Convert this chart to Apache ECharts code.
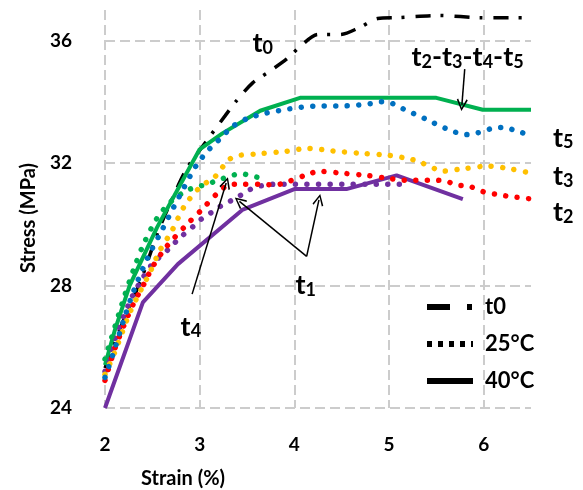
<!DOCTYPE html>
<html>
<head>
<meta charset="utf-8">
<script src="https://cdn.jsdelivr.net/npm/echarts@6/dist/echarts.min.js"></script>
<style>
  html, body { margin: 0; padding: 0; background: #fff; }
  #chart { width: 583px; height: 490px; }
</style>
</head>
<body>
<div id="chart"></div>
<script>
// [strain %, stress MPa]
var t0Curve = [[2.0, 25.3], [2.2, 26.9], [2.37, 28.1], [2.56, 29.75], [2.72, 30.9], [2.86, 31.8], [3.02, 32.5],
  [3.27, 33.55], [3.39, 34.04], [3.56, 34.62], [3.74, 35.0], [3.92, 35.4], [4.06, 35.8], [4.25, 36.2],
  [4.48, 36.2], [4.69, 36.43], [4.88, 36.72], [5.09, 36.75], [5.53, 36.82], [5.98, 36.75], [6.5, 36.75]];

var t5At25 = [[2.0, 25.0], [2.1, 25.9], [2.2, 26.9], [2.3, 27.8], [2.45, 28.9], [2.6, 29.8], [2.8, 31.0],
  [2.97, 31.95], [3.1, 32.45], [3.2, 32.75], [3.35, 33.2], [3.5, 33.45], [3.7, 33.63], [3.95, 33.77],
  [4.2, 33.86], [4.55, 33.87], [4.8, 33.94], [4.92, 34.0], [5.04, 33.94], [5.15, 33.77], [5.38, 33.45],
  [5.6, 33.13], [5.82, 32.93], [5.94, 32.99], [6.1, 33.14], [6.2, 33.16], [6.4, 33.0], [6.5, 32.9]];

var t3At25 = [[2.0, 25.1], [2.1, 25.8], [2.26, 27.1], [2.37, 27.8], [2.47, 28.4], [2.58, 29.15], [2.7, 29.75],
  [2.84, 30.6], [3.0, 31.2], [3.16, 31.55], [3.24, 31.86], [3.31, 32.12], [3.42, 32.25], [3.6, 32.3],
  [3.9, 32.38], [4.15, 32.48], [4.4, 32.4], [4.7, 32.32], [5.0, 32.25], [5.24, 32.12], [5.35, 32.0],
  [5.58, 31.74], [5.75, 31.8], [6.05, 31.9], [6.3, 31.8], [6.5, 31.67]];

var t2At25 = [[2.0, 24.9], [2.1, 25.9], [2.2, 26.7], [2.3, 27.4], [2.42, 28.1], [2.5, 28.6], [2.65, 29.27],
  [2.86, 29.98], [3.02, 30.47], [3.19, 31.02], [3.32, 31.3], [3.42, 31.31], [3.67, 31.31], [3.79, 31.28],
  [3.92, 31.38], [4.14, 31.63], [4.26, 31.73], [4.5, 31.67], [4.75, 31.6], [5.0, 31.5], [5.15, 31.44],
  [5.5, 31.44], [5.6, 31.41], [5.72, 31.28], [5.84, 31.25], [6.0, 31.06], [6.15, 30.97], [6.3, 30.9], [6.5, 30.83]];

var t4At25 = [[2.0, 25.6], [2.1, 26.6], [2.2, 27.6], [2.3, 28.5], [2.4, 29.3], [2.55, 30.2], [2.7, 30.75],
  [2.86, 31.1], [2.97, 31.22], [3.08, 31.31], [3.19, 31.44], [3.32, 31.57], [3.43, 31.66], [3.56, 31.57], [3.67, 31.5]];

var t1At25 = [[2.0, 25.2], [2.1, 26.2], [2.26, 27.46], [2.37, 28.1], [2.5, 28.7], [2.69, 29.24], [2.77, 29.5],
  [2.95, 29.98], [3.03, 30.2], [3.13, 30.4], [3.24, 30.63], [3.35, 30.8], [3.47, 31.02], [3.56, 31.18],
  [3.69, 31.28], [3.8, 31.31], [5.16, 31.31]];

var t2to5At40 = [[2.0, 25.4], [2.1, 26.5], [2.26, 28.0], [2.55, 29.9], [2.92, 32.0], [3.0, 32.45], [3.24, 32.97],
  [3.64, 33.71], [4.06, 34.13], [5.5, 34.13], [5.99, 33.74], [6.5, 33.74]];

var t1At40 = [[2.0, 24.0], [2.4, 27.45], [2.77, 28.7], [3.45, 30.47], [4.0, 31.15], [4.55, 31.15], [5.08, 31.6], [5.78, 30.82]];

var yTicks = [24, 28, 32, 36];
var xTicks = [2, 3, 4, 5, 6];
var legendNames = ['t0', '25°C', '40°C'];

// annotation arrows [from, to] in data coords
var arrows = [
  [[5.80, 35.07], [5.77, 33.9]],
  [[4.13, 28.95], [4.26, 30.8]],
  [[4.13, 28.95], [3.42, 30.75]],
  [[2.92, 27.72], [3.28, 31.35]]
];

var labelAnchors = [
  { text: '{a|t}{b|0}', at: [3.667, 35.9] },
  { text: '{a|t}{b|2}{a|-t}{b|3}{a|-t}{b|4}{a|-t}{b|5}', at: [5.83, 35.45] },
  { text: '{a|t}{b|5}', at: [6.84, 32.82] },
  { text: '{a|t}{b|3}', at: [6.84, 31.56] },
  { text: '{a|t}{b|2}', at: [6.84, 30.39] },
  { text: '{a|t}{b|1}', at: [4.12, 28.0] },
  { text: '{a|t}{b|4}', at: [2.907, 26.64] }
];

var FONT = 'Lato, "Open Sans", sans-serif';
var arrowHead = 'path://M0,0 L6,10 L4.6,11 L0,2.8 L-4.6,11 L-6,10 Z';

function dotted(name, data, color) {
  return {
    name: name, type: 'line', data: data, symbol: 'none', smooth: 0.3,
    lineStyle: { color: color, width: 5.5, type: [0.01, 11.5], cap: 'round' }
  };
}

function solid(name, data, color) {
  return {
    name: name, type: 'line', data: data, symbol: 'none',
    lineStyle: { color: color, width: 4, type: 'solid' }
  };
}

var chart = echarts.init(document.getElementById('chart'));

var option = {
  animation: false,
  grid: { left: 105, right: 52, top: 10, bottom: 82, outerBoundsMode: 'none' },
  xAxis: {
    type: 'value', min: 2, max: 6.5, interval: 1,
    name: 'Strain (%)', nameLocation: 'middle', nameGap: 61,
    nameTextStyle: { fontFamily: FONT, fontWeight: 'bold', fontSize: 20, color: '#000', padding: [0, 270, 0, 0] },
    axisLine: { show: false }, axisTick: { show: false },
    axisLabel: {
      margin: 27, fontFamily: FONT, fontWeight: 'bold', fontSize: 19, color: '#000', showMaxLabel: false,
      formatter: function (v) { return xTicks.indexOf(v) >= 0 ? String(v) : ''; }
    },
    splitLine: { show: true, showMaxLine: false, lineStyle: { color: '#cccccc', width: 2, type: [10, 5] } }
  },
  yAxis: {
    type: 'value', min: 24, max: 37, interval: 4,
    name: 'Stress (MPa)', nameLocation: 'middle', nameGap: 66, nameRotate: 90,
    nameTextStyle: { fontFamily: FONT, fontWeight: 'bold', fontSize: 20, color: '#000', padding: [0, 18, 0, 0] },
    axisLine: { show: false }, axisTick: { show: false },
    axisLabel: {
      margin: 33, fontFamily: FONT, fontWeight: 'bold', fontSize: 19, color: '#000', showMaxLabel: false,
      formatter: function (v) { return yTicks.indexOf(v) >= 0 ? String(v) : ''; }
    },
    splitLine: { show: true, showMaxLine: false, lineStyle: { color: '#cccccc', width: 2, type: [10, 5] } }
  },
  legend: {
    data: legendNames, orient: 'vertical', left: 419, top: 291,
    itemWidth: 46, itemHeight: 24, itemGap: 15,
    itemStyle: { color: 'rgba(0,0,0,0)', borderColor: 'rgba(0,0,0,0)', borderWidth: 0 },
    lineStyle: { width: 6 },
    textStyle: { fontFamily: FONT, fontWeight: 'bold', fontSize: 22, color: '#000', padding: [0, 0, 0, 7] }
  },
  series: [
    {
      name: 't0 curve', type: 'line', data: t0Curve, symbol: 'none', smooth: 0.3,
      lineStyle: { color: '#000', width: 3.5, type: [15, 10, 3, 11] }
    },
    solid('t1 40', t1At40, '#7030A0'),
    solid('t2-t5 40', t2to5At40, '#00B050'),
    dotted('t1 25', t1At25, '#7030A0'),
    dotted('t2 25', t2At25, '#FF0000'),
    dotted('t3 25', t3At25, '#FFC000'),
    dotted('t4 25', t4At25, '#00B050'),
    dotted('t5 25', t5At25, '#0070C0'),
    {
      name: 'arrows', type: 'line', data: [], symbol: 'none',
      markLine: {
        silent: true, animation: false,
        symbol: ['none', arrowHead], symbolSize: [11, 12],
        label: { show: false },
        lineStyle: { color: '#000', width: 1.5, type: 'solid' },
        data: arrows.map(function (a) { return [{ coord: a[0] }, { coord: a[1] }]; })
      }
    },
    // legend-only entries
    { name: 't0', type: 'line', data: [], symbol: 'none',
      lineStyle: { color: '#000', width: 6, type: [23, 17, 5, 60] } },
    { name: '25°C', type: 'line', data: [], symbol: 'none',
      lineStyle: { color: '#000', width: 6, type: [5, 6] } },
    { name: '40°C', type: 'line', data: [], symbol: 'none',
      lineStyle: { color: '#000', width: 6, type: 'solid' } }
  ]
};

chart.setOption(option);

var rich = {
  a: { fontFamily: FONT, fontWeight: 'bold', fontSize: 27, lineHeight: 27, color: '#000', verticalAlign: 'top' },
  b: { fontFamily: FONT, fontWeight: 'bold', fontSize: 18, lineHeight: 18, color: '#000', verticalAlign: 'bottom', padding: [16, 0, 0, 0] }
};

chart.setOption({
  graphic: labelAnchors.map(function (l) {
    var p = chart.convertToPixel({ gridIndex: 0 }, l.at);
    return {
      type: 'text', x: p[0], y: p[1], silent: true,
      style: { text: l.text, rich: rich, align: 'center', verticalAlign: 'middle' }
    };
  })
});
</script>
</body>
</html>
